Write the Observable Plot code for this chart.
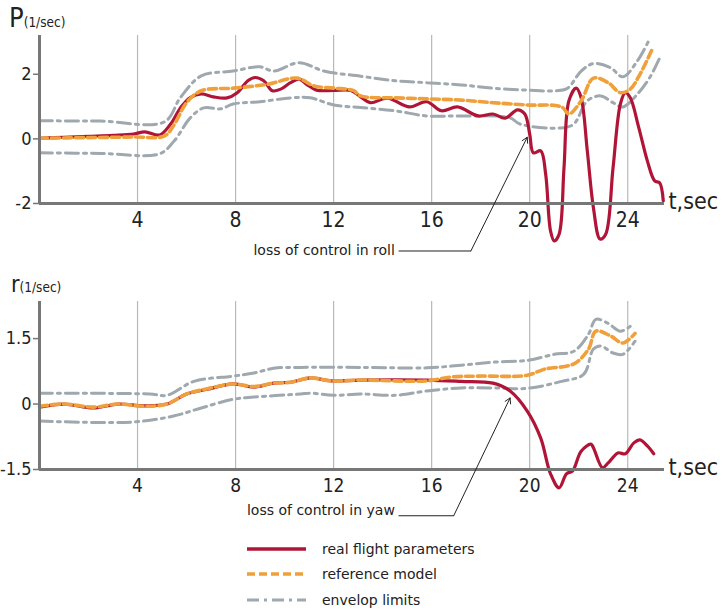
<!DOCTYPE html>
<html>
<head>
<meta charset="utf-8">
<script src="https://cdn.jsdelivr.net/npm/d3@7"></script>
<script src="https://cdn.jsdelivr.net/npm/@observablehq/plot@0.6"></script>
<style>
  body { margin: 0; background: #fff; font-family: "DejaVu Sans Condensed", "DejaVu Sans", sans-serif; color: #222; }
  #wrap { position: relative; width: 724px; height: 610px; overflow: hidden; }
  .panel { position: absolute; left: 0; }
  .ttl { position: absolute; color: #222; white-space: nowrap; }
  .ttl .big { font-size: 27px; }
  .ttl .small { font-size: 13.5px; }
  #legend { position: absolute; left: 246px; top: 536px; font-size: 14px; color: #222; font-family: "DejaVu Sans", sans-serif; }
  #legend .row { display: flex; align-items: center; height: 25.5px; }
  #legend svg { margin-right: 16px; }
</style>
</head>
<body>
<div id="wrap">
  <div class="ttl" style="left:9px;top:2px;"><span class="big">P</span><span class="small">(1/sec)</span></div>
  <div class="ttl" style="left:11px;top:271px;"><span class="big" style="font-size:23px">r</span><span class="small">(1/sec)</span></div>
  <div id="top" class="panel" style="top:0px"></div>
  <div id="bot" class="panel" style="top:270px"></div>
  <div id="legend"></div>
</div>
<script>
// ---------- data ----------
const xTicks = [4, 8, 12, 16, 20, 24];
const pTicks = [-2, 0, 2];
const rTicks = [-1.5, 0, 1.5];
const xLabel = "t,sec";

// P (roll rate)
const pRealT = [0, 1, 2, 3, 3.84, 4.3, 4.9, 5.35, 5.75, 6.15, 6.6, 7.1, 7.65, 8.07, 8.5, 8.8, 9.15, 9.5, 9.84, 10.24, 10.6, 10.9, 11.3, 12, 12.7, 13.1, 13.5, 14.2, 15.1, 15.8, 16.4, 17.05, 17.9, 18.5, 19.0, 19.5, 19.8, 20.0, 20.15, 20.45, 20.65, 20.85, 21.0, 21.2, 21.4, 21.6, 21.9, 22.1, 22.35, 22.6, 22.87, 23.1, 23.4, 23.7, 23.9, 24.1, 24.45, 24.8, 25.1, 25.3, 25.45];
const pRealV = [0.02, 0.05, 0.08, 0.11, 0.15, 0.22, 0.12, 0.46, 0.96, 1.28, 1.39, 1.3, 1.27, 1.43, 1.8, 1.9, 1.8, 1.49, 1.54, 1.74, 1.85, 1.69, 1.51, 1.5, 1.5, 1.3, 1.12, 1.26, 0.99, 1.15, 0.87, 0.99, 0.71, 0.77, 0.64, 0.9, 0.77, 0.15, -0.43, -0.37, -1.08, -2.85, -3.16, -2.95, -0.89, 1.18, 1.57, 1.27, -0.37, -2.13, -3.1, -2.95, -0.9, 1.08, 1.43, 1.28, 0.35, -0.68, -1.3, -1.36, -1.92];
const pModelT = [0, 2, 3.84, 5.1, 5.5, 6.0, 6.6, 7.9, 9.3, 10.5, 11.2, 12, 12.8, 13.1, 14.5, 15.8, 17.2, 18.5, 19.9, 21.3, 21.6, 22.1, 22.6, 23.2, 23.7, 24.1, 24.5, 25.0];
const pModelV = [0.02, 0.04, 0.06, 0.09, 0.45, 1.12, 1.49, 1.57, 1.69, 1.88, 1.64, 1.57, 1.5, 1.33, 1.27, 1.24, 1.2, 1.12, 1.05, 0.99, 0.77, 1.18, 1.88, 1.74, 1.43, 1.54, 2.0, 2.78];
const pUpperT = [0, 2.5, 5.1, 5.75, 6.6, 7.9, 9.0, 9.55, 10.6, 11.6, 13.1, 14.5, 15.8, 17.2, 18.5, 19.9, 21.1, 21.55, 22.1, 22.6, 23.3, 23.8, 24.4, 24.85];
const pUpperV = [0.56, 0.55, 0.53, 1.28, 1.95, 2.1, 2.23, 2.1, 2.36, 2.1, 1.94, 1.8, 1.74, 1.67, 1.57, 1.51, 1.49, 1.57, 2.1, 2.33, 2.2, 1.92, 2.42, 3.03];
const pLowerT = [0, 2.5, 4.9, 5.5, 6.15, 6.7, 7.4, 7.9, 9.0, 10.25, 11.05, 12, 13.1, 14.5, 15.8, 17.2, 19.2, 19.6, 21.3, 21.8, 22.35, 22.9, 23.4, 23.8, 24.4, 24.9, 25.3];
const pLowerV = [-0.43, -0.45, -0.46, -0.06, 0.65, 0.96, 0.93, 1.08, 1.15, 1.27, 1.27, 1.05, 0.97, 0.87, 0.71, 0.71, 0.65, 0.46, 0.34, 0.46, 1.18, 1.33, 1.12, 0.99, 1.39, 1.9, 2.5];

// r (yaw rate)
const rRealT = [0, 1.0, 2.2, 3.2, 4.25, 5.2, 6.0, 6.85, 7.9, 8.75, 9.55, 10.25, 11.05, 11.9, 13.1, 15.8, 17.2, 18.5, 19.2, 19.9, 20.45, 20.85, 21.2, 21.5, 21.75, 22.1, 22.5, 22.6, 22.97, 23.2, 23.6, 23.9, 24.25, 24.5, 24.8, 25.06];
const rRealV = [-0.07, 0, -0.09, 0, -0.04, 0, 0.23, 0.34, 0.46, 0.39, 0.48, 0.5, 0.6, 0.53, 0.55, 0.55, 0.52, 0.48, 0.3, -0.16, -0.78, -1.6, -1.92, -1.6, -1.53, -1.08, -0.92, -1.0, -1.46, -1.35, -1.12, -1.14, -0.89, -0.82, -0.96, -1.14];
const rModelT = [0, 1.0, 2.2, 3.2, 4.25, 5.2, 6.0, 6.85, 7.9, 8.75, 9.55, 10.25, 11.05, 11.9, 13.1, 15.8, 16.8, 17.9, 19.9, 20.6, 21.8, 22.4, 22.7, 23.3, 23.8, 24.3];
const rModelV = [-0.05, 0, -0.07, 0, -0.05, 0, 0.23, 0.35, 0.46, 0.4, 0.48, 0.5, 0.6, 0.53, 0.55, 0.53, 0.62, 0.64, 0.66, 0.8, 0.92, 1.26, 1.67, 1.56, 1.4, 1.62];
const rUpperT = [0, 4.5, 5.2, 6.3, 7.9, 8.75, 9.55, 10.65, 13.1, 15.8, 17.2, 18.5, 19.9, 21.0, 21.8, 22.4, 22.7, 23.2, 23.7, 24.1];
const rUpperV = [0.25, 0.23, 0.2, 0.52, 0.64, 0.71, 0.82, 0.84, 0.84, 0.83, 0.89, 0.96, 1.0, 1.14, 1.21, 1.6, 1.94, 1.85, 1.67, 1.78];
const rLowerT = [0, 3.85, 5.5, 6.6, 7.9, 8.75, 10.65, 11.05, 12, 13.1, 14.5, 15.8, 17.2, 18.5, 19.9, 21.3, 22.2, 22.6, 22.9, 23.4, 23.8, 24.3];
const rLowerV = [-0.39, -0.41, -0.27, -0.09, 0.11, 0.16, 0.23, 0.25, 0.2, 0.23, 0.2, 0.3, 0.37, 0.37, 0.36, 0.52, 0.68, 1.26, 1.33, 1.17, 1.14, 1.44];

// annotations: text anchor, underline end, arrow tip
const pNote = {text: "loss of control in roll", tx: 14.5, ty: -3.44, x1: 14.65, x2: 17.6, yl: -3.47, ax: 19.9, ay: 0.05};
const rNote = {text: "loss of control in yaw", tx: 14.5, ty: -2.45, x1: 14.65, x2: 16.9, yl: -2.56, ax: 19.2, ay: 0.14};

const legendItems = ["real flight parameters", "reference model", "envelop limits"];

// ---------- styles ----------
const RED = "#b01538", ORANGE = "#f0a03a", GRAY = "#9ea8ae", AXIS = "#777", GRID = "#b8b8b8";
const FONT = '"DejaVu Sans Condensed", "DejaVu Sans", sans-serif';
const NOTEFONT = '"DejaVu Sans", sans-serif';

const zip = (T, V) => T.map((t, i) => ({t, v: V[i]}));
const fmt = d => (d < 0 ? "-" : "") + String(Math.abs(d));

function chart({yDomain, height, marginTop, marginBottom, yTicks, real, model, upper, lower, note, xFont}) {
  return Plot.plot({
    width: 724, height, marginLeft: 39, marginRight: 60, marginTop, marginBottom,
    style: {fontFamily: FONT, color: "#222", background: "transparent", overflow: "visible"},
    x: {domain: [0, 25.5]},
    y: {domain: yDomain},
    marks: [
      Plot.ruleX(xTicks, {y1: yDomain[0], y2: yDomain[1], stroke: GRID, strokeWidth: 1.2}),
      Plot.line(upper, {x: "t", y: "v", curve: "catmull-rom", stroke: GRAY, strokeWidth: 3, strokeDasharray: "13,5,3,5"}),
      Plot.line(lower, {x: "t", y: "v", curve: "catmull-rom", stroke: GRAY, strokeWidth: 3, strokeDasharray: "13,5,3,5"}),
      Plot.line(real, {x: "t", y: "v", curve: "catmull-rom", stroke: RED, strokeWidth: 3.2}),
      Plot.line(model, {x: "t", y: "v", curve: "catmull-rom", stroke: ORANGE, strokeWidth: 3.6, strokeDasharray: "8,4"}),
      Plot.ruleX([0], {stroke: AXIS, strokeWidth: 3}),
      Plot.ruleY([yDomain[0]], {stroke: AXIS, strokeWidth: 3}),
      Plot.axisY({ticks: yTicks, tickFormat: fmt, tickSize: 6, tickPadding: 2, fontSize: 18, label: null, stroke: AXIS, strokeWidth: 1.5}),
      Plot.axisX({ticks: xTicks, tickFormat: fmt, tickSize: 0, tickPadding: 9, fontSize: xFont, label: null}),
      Plot.text([xLabel], {x: 25.5, y: yDomain[0], text: d => d, dx: 4, dy: -2, textAnchor: "start", fontSize: 23}),
      Plot.text([note], {x: "tx", y: "ty", text: "text", textAnchor: "end", fontSize: 14, fontFamily: NOTEFONT}),
      Plot.link([note], {x1: "x1", x2: "x2", y1: "yl", y2: "yl", stroke: "#222", strokeWidth: 1}),
      Plot.arrow([note], {x1: "x2", y1: "yl", x2: "ax", y2: "ay", stroke: "#222", strokeWidth: 1, headLength: 9, bend: false})
    ]
  });
}

document.getElementById("top").appendChild(chart({
  yDomain: [-2, 3.2], height: 270, marginTop: 35, marginBottom: 67, yTicks: pTicks,
  real: zip(pRealT, pRealV), model: zip(pModelT, pModelV), upper: zip(pUpperT, pUpperV), lower: zip(pLowerT, pLowerV),
  note: pNote, xFont: 21
}));
document.getElementById("bot").appendChild(chart({
  yDomain: [-1.5, 2.35], height: 270, marginTop: 31, marginBottom: 71, yTicks: rTicks,
  real: zip(rRealT, rRealV), model: zip(rModelT, rModelV), upper: zip(rUpperT, rUpperV), lower: zip(rLowerT, rLowerV),
  note: rNote, xFont: 19
}));

// legend
const swatches = [
  {stroke: RED, width: 3.5, dash: null},
  {stroke: ORANGE, width: 3.5, dash: "8,4"},
  {stroke: GRAY, width: 3, dash: "12,5,3,5"}
];
const leg = d3.select("#legend");
legendItems.forEach((label, i) => {
  const row = leg.append("div").attr("class", "row");
  const s = row.append("svg").attr("width", 60).attr("height", 10);
  s.append("line").attr("x1", 1).attr("x2", 60).attr("y1", 5).attr("y2", 5)
    .attr("stroke", swatches[i].stroke).attr("stroke-width", swatches[i].width)
    .attr("stroke-dasharray", swatches[i].dash);
  row.append("span").text(label);
});
</script>
</body>
</html>
